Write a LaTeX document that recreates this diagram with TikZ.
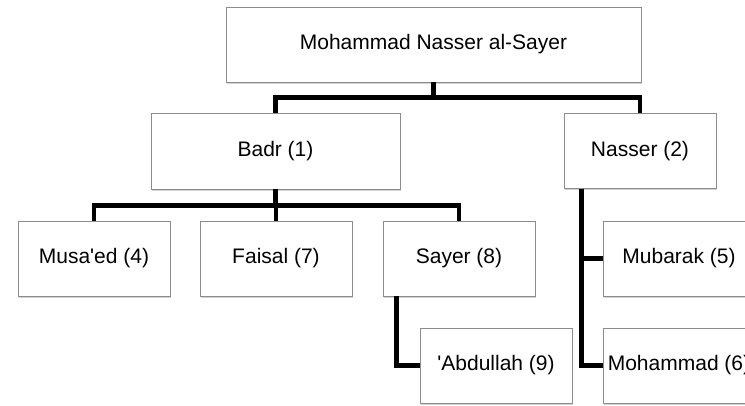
\documentclass[tikz,border=0pt]{standalone}
\usepackage{fontspec}
\setmainfont{Liberation Sans}
\usetikzlibrary{shadows}
\begin{document}
\begin{tikzpicture}
  [x=1bp,y=-1bp,
   every node/.style={draw=black!45,line width=.8bp,fill=white,
     minimum width=152bp,minimum height=75bp,inner sep=2bp,
     font=\fontsize{21bp}{25bp}\selectfont,
     drop shadow={shadow xshift=1.2bp,shadow yshift=-1.6bp,opacity=.35}},
   link/.style={draw,line width=4.5bp}]
  \useasboundingbox (0,0) rectangle (745,405);
  \node[minimum width=415bp] (n0) at (433.5,44.5) {Mohammad Nasser al-Sayer};
  \node[minimum width=249bp,minimum height=76bp] (n1) at (275.5,151) {Badr (1)};
  \node (n2) at (640,151) {Nasser (2)};
  \node (n4) at (94,258.5) {Musa\textquotesingle ed (4)};
  \node (n7) at (276,258.5) {Faisal (7)};
  \node (n8) at (459,258.5) {Sayer (8)};
  \node (n5) at (679,258.5) {Mubarak (5)};
  \node (n9) at (496,365.5) {\textquotesingle Abdullah (9)};
  \node (n6) at (679,365.5) {Mohammad (6)};
 \path[link]
        (n0.south) -- ++(0,15) -| (n1.north)
        (n0.south) -- ++(0,15) -| (n2.north)
        (n1.south) -- ++(0,16) -| (n4.north)
        (n1.south) -- ++(0,16) -| (n7.north)
        (n1.south) -- ++(0,16) -| (n8.north)
        ([xshift=18bp]n2.south west) |- (n5.west)
        ([xshift=18bp]n2.south west) |- (n6.west)
        ([xshift=14bp]n8.south west) |- (n9.west);

\end{tikzpicture}
\end{document}
